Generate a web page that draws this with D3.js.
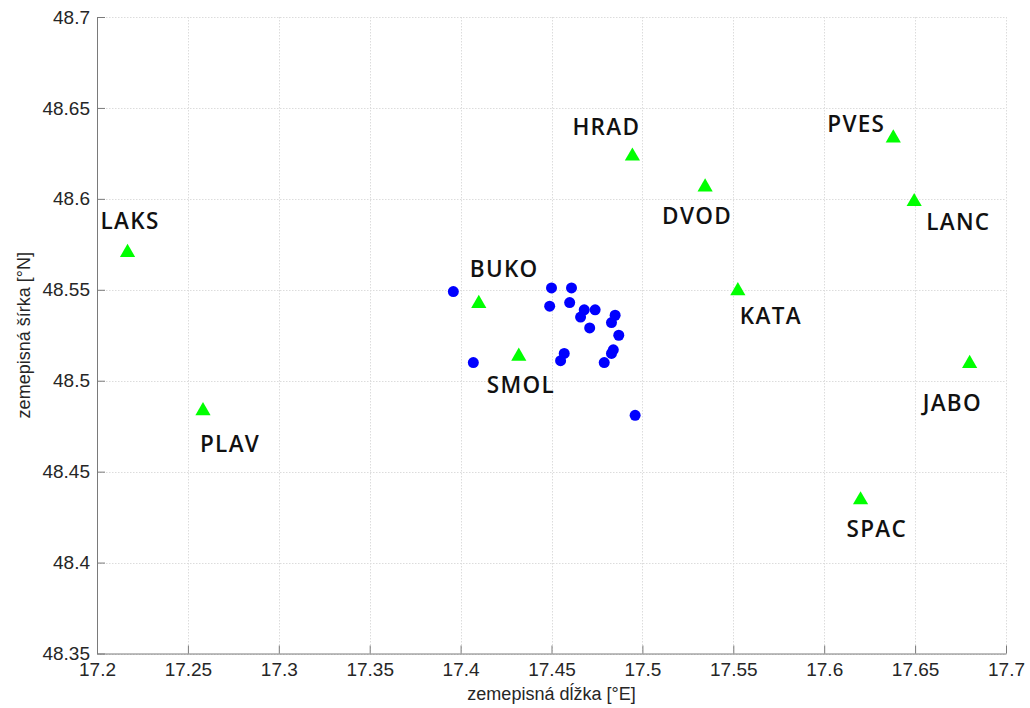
<!DOCTYPE html>
<html>
<head>
<meta charset="utf-8">
<script src="https://cdn.jsdelivr.net/npm/d3@7"></script>
<style>
  html, body { margin: 0; padding: 0; background: #fff; }
  svg { display: block; }
</style>
</head>
<body>
<svg id="chart" width="1030" height="708"></svg>
<script>
// Measurement points (longitude, latitude)
const pointLon = [17.396, 17.450, 17.461, 17.449, 17.460, 17.468, 17.474, 17.466, 17.485, 17.483,
                  17.471, 17.487, 17.457, 17.455, 17.484, 17.483, 17.479, 17.407, 17.496];
const pointLat = [48.549, 48.551, 48.551, 48.541, 48.543, 48.539, 48.539, 48.535, 48.536, 48.532,
                  48.529, 48.525, 48.515, 48.511, 48.517, 48.515, 48.510, 48.510, 48.481];

// Reference stations
const stationNames = ["LAKS", "PLAV", "BUKO", "SMOL", "HRAD", "DVOD", "KATA", "PVES", "LANC", "JABO", "SPAC"];
const stationLon   = [17.2168, 17.2583, 17.4100, 17.4320, 17.4945, 17.5345, 17.5525, 17.6380, 17.6495, 17.6800, 17.6200];
const stationLat   = [48.571, 48.484, 48.543, 48.514, 48.624, 48.607, 48.550, 48.634, 48.599, 48.510, 48.435];

// Label placement relative to each station marker (pixels; left edge and baseline)
const labelOffsets = [
  [-27, -23], [-3, 42], [-9, -26], [-32, 38], [-60, -20], [-43, 38], [2, 34], [-66, -5], [12, 29], [-47, 48], [-14, 38]
];

// Axis ticks
const xTicks = [17.2, 17.25, 17.3, 17.35, 17.4, 17.45, 17.5, 17.55, 17.6, 17.65, 17.7];
const yTicks = [48.35, 48.4, 48.45, 48.5, 48.55, 48.6, 48.65, 48.7];
const xTitle = "zemepisná dĺžka [°E]";
const yTitle = "zemepisná šírka [°N]";

const svg = d3.select("#chart");
const m = { left: 97, right: 1006, top: 17, bottom: 653.5 };

const x = d3.scaleLinear().domain([17.2, 17.7]).range([m.left, m.right]);
const y = d3.scaleLinear().domain([48.35, 48.7]).range([m.bottom, m.top]);

// Grid
const grid = svg.append("g").attr("stroke", "#dcdcdc").attr("stroke-width", 1).attr("stroke-dasharray", "1.5,1.5");
grid.selectAll("line.vx").data(xTicks).join("line")
  .attr("x1", d => Math.round(x(d)) + 0.5).attr("x2", d => Math.round(x(d)) + 0.5)
  .attr("y1", m.top).attr("y2", m.bottom);
grid.selectAll("line.hy").data(yTicks).join("line")
  .attr("y1", d => Math.round(y(d)) + 0.5).attr("y2", d => Math.round(y(d)) + 0.5)
  .attr("x1", m.left).attr("x2", m.right);

// Axes (ticks drawn inward)
const tickFont = "'Liberation Sans', Arial, sans-serif";
const xAxis = svg.append("g").attr("transform", `translate(0,${m.bottom})`)
  .call(d3.axisBottom(x).tickValues(xTicks).tickSizeInner(-8).tickSizeOuter(0).tickPadding(9)
        .tickFormat(d3.format("")));
const yAxis = svg.append("g").attr("transform", `translate(${m.left},0)`)
  .call(d3.axisLeft(y).tickValues(yTicks).tickSizeInner(-8).tickSizeOuter(0).tickPadding(7)
        .tickFormat(d3.format("")));
[xAxis, yAxis].forEach(a => {
  a.select(".domain").attr("stroke", "#7a7a7a");
  a.selectAll(".tick line").attr("stroke", "#7a7a7a");
  a.selectAll(".tick text").attr("fill", "#262626").style("font-family", tickFont).style("font-size", "19px");
});

// Axis titles
svg.append("text").attr("x", (m.left + m.right) / 2).attr("y", 700)
  .attr("text-anchor", "middle").attr("fill", "#262626")
  .style("font-family", tickFont).style("font-size", "18px").text(xTitle);
svg.append("text").attr("transform", `translate(30,${(m.top + m.bottom) / 2}) rotate(-90)`)
  .attr("text-anchor", "middle").attr("fill", "#262626")
  .style("font-family", tickFont).style("font-size", "18px").text(yTitle);

// Measurement points
svg.append("g").selectAll("circle").data(pointLon).join("circle")
  .attr("cx", (d, i) => x(d)).attr("cy", (d, i) => y(pointLat[i]))
  .attr("r", 5.5).attr("fill", "#0000ff");

// Stations
const tri = d3.symbol().type(d3.symbolTriangle).size(100);
const stations = svg.append("g");
stations.selectAll("path").data(stationNames).join("path")
  .attr("d", tri)
  .attr("transform", (d, i) => `translate(${x(stationLon[i])},${y(stationLat[i]) + 1})`)
  .attr("fill", "#00ff00");
stations.selectAll("text").data(stationNames).join("text")
  .attr("x", (d, i) => x(stationLon[i]) + labelOffsets[i][0])
  .attr("y", (d, i) => y(stationLat[i]) + labelOffsets[i][1])
  .attr("fill", "#111")
  .style("font-family", "'Open Sans', 'Noto Sans', sans-serif")
  .style("font-weight", "600").style("font-size", "22.5px")
  .style("letter-spacing", "1.3px")
  .text(d => d);
</script>
</body>
</html>
